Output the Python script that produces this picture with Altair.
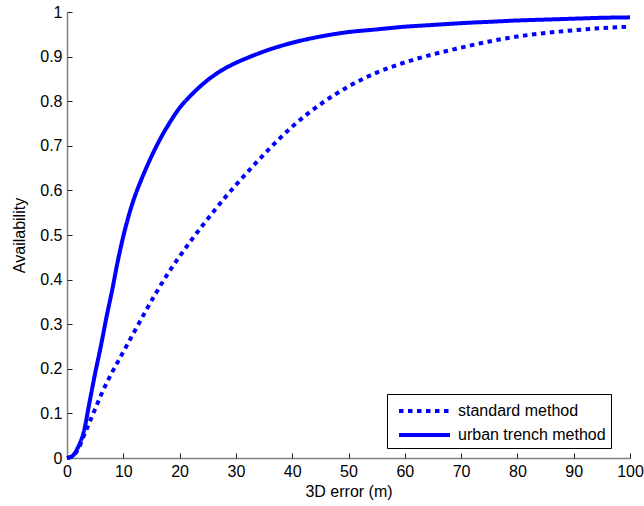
import altair as alt
import pandas as pd

# urban trench method (solid)
urban_x = [0, 1, 2, 3, 4, 5, 6, 7, 8, 9, 10, 11, 12, 13, 14, 16, 18, 20, 22, 24, 26, 28, 30,
           33, 36, 40, 45, 50, 55, 60, 65, 70, 75, 80, 85, 90, 95, 100]
urban_y = [0, 0.005, 0.025, 0.06, 0.125, 0.19, 0.25, 0.315, 0.375, 0.44, 0.497, 0.545, 0.585,
           0.618, 0.648, 0.702, 0.747, 0.785, 0.813, 0.837, 0.857, 0.873, 0.886, 0.902, 0.916,
           0.931, 0.945, 0.955, 0.961, 0.967, 0.971, 0.975, 0.978, 0.981, 0.983, 0.985, 0.987, 0.988]

# standard method (dotted)
std_x = [0, 1, 2, 3, 4, 5, 6, 7, 8, 9, 10, 12, 14, 16, 18, 20, 22, 24, 26, 28, 30, 33, 36, 40,
         45, 50, 55, 60, 65, 70, 75, 80, 85, 90, 95, 100]
std_y = [0, 0.005, 0.02, 0.05, 0.08, 0.11, 0.14, 0.167, 0.192, 0.215, 0.238, 0.284, 0.33,
         0.374, 0.415, 0.452, 0.487, 0.52, 0.552, 0.583, 0.612, 0.654, 0.694, 0.743, 0.793, 0.833,
         0.864, 0.887, 0.905, 0.92, 0.934, 0.945, 0.953, 0.959, 0.964, 0.967]

series_names = ["standard method", "urban trench method"]
x_ticks = [0, 10, 20, 30, 40, 50, 60, 70, 80, 90, 100]
y_ticks = [0, 0.1, 0.2, 0.3, 0.4, 0.5, 0.6, 0.7, 0.8, 0.9, 1]

df = pd.concat([
    pd.DataFrame({"x": std_x, "y": std_y, "s": series_names[0], "o": range(len(std_x))}),
    pd.DataFrame({"x": urban_x, "y": urban_y, "s": series_names[1], "o": range(len(urban_x))}),
])

W, H = 563, 446
FS = 16
xscale = alt.Scale(domain=[0, 100], nice=False)
yscale = alt.Scale(domain=[0, 1], nice=False)

lines = alt.Chart(df).mark_line(color="#0000ff", strokeWidth=4, interpolate="monotone",
                                strokeCap="butt").encode(
    x=alt.X("x:Q", scale=xscale, title="3D error (m)",
            axis=alt.Axis(orient="bottom", values=x_ticks, ticks=False,
                          grid=False, domainColor="#808080", domainWidth=1.5,
                          labelFontSize=FS, labelPadding=5, titleFontSize=FS,
                          titleFontWeight="normal", titlePadding=4, labelColor="black",
                          titleColor="black", labelFlush=False)),
    y=alt.Y("y:Q", scale=yscale, title="Availability",
            axis=alt.Axis(orient="left", values=y_ticks, ticks=False,
                          grid=False, domainColor="#808080", domainWidth=1.5,
                          labelFontSize=FS, labelPadding=5, titleFontSize=FS,
                          titleFontWeight="normal", titlePadding=12, labelColor="black",
                          titleColor="black", format="~g", labelFlush=False)),
    strokeDash=alt.StrokeDash("s:N", scale=alt.Scale(domain=series_names, range=[[4.5, 4.5], [1, 0]]),
                              legend=alt.Legend(title=None, orient="none", legendX=320, legendY=382,
                                                strokeColor="black", fillColor="white", padding=5,
                                                labelFontSize=FS, labelColor="black",
                                                symbolType="M-0.5,0H4.6", symbolSize=400,
                                                symbolStrokeWidth=4, symbolStrokeColor="#0000ff",
                                                rowPadding=4, labelOffset=42, labelLimit=300)),
    order="o:Q",
)

ticks = alt.Chart(df).mark_point(opacity=0).encode(
    x=alt.X("x:Q", scale=xscale,
            axis=alt.Axis(orient="top", offset=-H, values=x_ticks, labels=False,
                          domain=False, grid=False, ticks=True, tickSize=5, tickColor="#222222",
                          tickWidth=1, title=None)),
    y=alt.Y("y:Q", scale=yscale,
            axis=alt.Axis(orient="right", offset=-W, values=y_ticks, labels=False,
                          domain=False, grid=False, ticks=True, tickSize=5, tickColor="#222222",
                          tickWidth=1, title=None)),
)

chart = alt.layer(lines, ticks).resolve_axis(x="independent", y="independent").properties(
    width=W, height=H,
    padding={"left": 67, "top": 12, "right": 14, "bottom": 48},
    autosize=alt.AutoSizeParams(type="none"),
).configure(font="Liberation Sans").configure_view(stroke=None)

chart.save("out.html", embed_options={"renderer": "svg", "actions": False})
